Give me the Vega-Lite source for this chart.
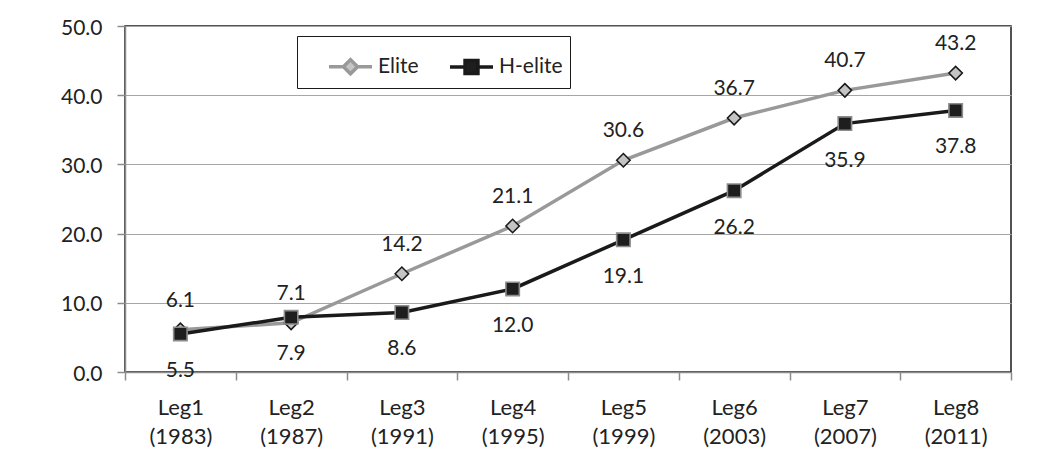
{
  "$schema": "https://vega.github.io/schema/vega-lite/v6.json",
  "width": 886,
  "height": 346,
  "autosize": {"type": "none"},
  "padding": {"left": 125, "top": 26, "right": 33, "bottom": 102},
  "background": "white",
  "config": {
    "font": "Lato",
    "view": {"stroke": "#1a1a1a", "strokeWidth": 1.5},
    "axis": {
      "title": null,
      "labelFont": "Lato",
      "labelFontSize": 21,
      "labelColor": "#222222",
      "tickColor": "#8c8c8c",
      "tickSize": 8,
      "tickWidth": 1.5,
      "domainColor": "#8c8c8c",
      "domainWidth": 1.5
    }
  },
  "data": {
    "values": [
      {"leg": "Leg1 (1983)", "series": "Elite", "value": 6.1},
      {"leg": "Leg2 (1987)", "series": "Elite", "value": 7.1},
      {"leg": "Leg3 (1991)", "series": "Elite", "value": 14.2},
      {"leg": "Leg4 (1995)", "series": "Elite", "value": 21.1},
      {"leg": "Leg5 (1999)", "series": "Elite", "value": 30.6},
      {"leg": "Leg6 (2003)", "series": "Elite", "value": 36.7},
      {"leg": "Leg7 (2007)", "series": "Elite", "value": 40.7},
      {"leg": "Leg8 (2011)", "series": "Elite", "value": 43.2},
      {"leg": "Leg1 (1983)", "series": "H-elite", "value": 5.5},
      {"leg": "Leg2 (1987)", "series": "H-elite", "value": 7.9},
      {"leg": "Leg3 (1991)", "series": "H-elite", "value": 8.6},
      {"leg": "Leg4 (1995)", "series": "H-elite", "value": 12.0},
      {"leg": "Leg5 (1999)", "series": "H-elite", "value": 19.1},
      {"leg": "Leg6 (2003)", "series": "H-elite", "value": 26.2},
      {"leg": "Leg7 (2007)", "series": "H-elite", "value": 35.9},
      {"leg": "Leg8 (2011)", "series": "H-elite", "value": 37.8}
    ]
  },
  "encoding": {
    "x": {
      "field": "leg",
      "type": "nominal",
      "sort": null,
      "scale": {"type": "band", "paddingInner": 0, "paddingOuter": 0},
      "axis": {
        "labelAngle": 0,
        "labelExpr": "split(datum.label, ' ')",
        "labelFontSize": 22,
        "labelLineHeight": 29,
        "labelBaseline": "top",
        "labelPadding": 17,
        "tickBand": "extent",
        "grid": false
      }
    },
    "y": {
      "field": "value",
      "type": "quantitative",
      "scale": {"domain": [0, 50]},
      "axis": {
        "values": [0, 10, 20, 30, 40, 50],
        "format": ".1f",
        "labelPadding": 15,
        "labelOffset": 2,
        "grid": true,
        "gridColor": "#a6a6a6",
        "gridWidth": 1.2
      }
    }
  },
  "layer": [
    {
      "mark": {"type": "line", "strokeWidth": 3.5},
      "encoding": {
        "stroke": {
          "field": "series",
          "type": "nominal",
          "scale": {"domain": ["Elite", "H-elite"], "range": ["#999999", "#1a1a1a"]},
          "legend": null
        }
      }
    },
    {
      "mark": {"type": "point", "size": 180, "strokeWidth": 1.6, "opacity": 1},
      "encoding": {
        "shape": {
          "field": "series",
          "type": "nominal",
          "scale": {"domain": ["Elite", "H-elite"], "range": ["diamond", "square"]},
          "legend": null
        },
        "fill": {
          "field": "series",
          "type": "nominal",
          "scale": {"domain": ["Elite", "H-elite"], "range": ["#c4c4c4", "#1e1e1e"]},
          "legend": null
        },
        "stroke": {
          "field": "series",
          "type": "nominal",
          "scale": {"domain": ["Elite", "H-elite"], "range": ["#1a1a1a", "#8c8c8c"]},
          "legend": null
        }
      }
    },
    {
      "transform": [{"filter": "datum.series == 'Elite'"}],
      "mark": {"type": "text", "dy": -29, "fontSize": 21, "color": "#222222", "font": "Lato"},
      "encoding": {"text": {"field": "value", "type": "quantitative", "format": ".1f"}}
    },
    {
      "transform": [{"filter": "datum.series == 'H-elite'"}],
      "mark": {"type": "text", "dy": 37, "fontSize": 21, "color": "#222222", "font": "Lato"},
      "encoding": {"text": {"field": "value", "type": "quantitative", "format": ".1f"}}
    },
    {
      "transform": [{"filter": "false"}],
      "mark": {"type": "point", "opacity": 1},
      "encoding": {
        "shape": {
          "field": "series",
          "type": "nominal",
          "scale": {
            "domain": ["Elite", "H-elite"],
            "range": [
              "M-1,0L-0.33,0M0.33,0L1,0M-0.33,0L0,-0.33L0.33,0L0,0.33Z",
              "M-1,0L-0.3,0M0.3,0L1,0M-0.3,-0.3L0.3,-0.3L0.3,0.3L-0.3,0.3Z"
            ]
          },
          "legend": {
            "title": null,
            "orient": "none",
            "legendX": 172,
            "legendY": 10,
            "direction": "horizontal",
            "strokeColor": "#1a1a1a",
            "fillColor": "white",
            "padding": 7,
            "symbolOffset": 23,
            "columnPadding": 6,
            "labelFont": "Lato",
            "labelFontSize": 21,
            "labelColor": "#222222",
            "labelOffset": 4,
            "labelExpr": "datum.label == 'H-elite' ? datum.label + '\u00a0\u00a0\u00a0\u00a0' : datum.label",
            "symbolSize": 1849,
            "symbolStrokeWidth": 3.5
          }
        },
        "fill": {
          "field": "series",
          "type": "nominal",
          "scale": {"domain": ["Elite", "H-elite"], "range": ["#c4c4c4", "#1e1e1e"]}
        },
        "stroke": {
          "field": "series",
          "type": "nominal",
          "scale": {"domain": ["Elite", "H-elite"], "range": ["#999999", "#1a1a1a"]}
        }
      }
    }
  ],
  "resolve": {
    "scale": {"stroke": "independent", "fill": "independent", "shape": "independent"}
  }
}
